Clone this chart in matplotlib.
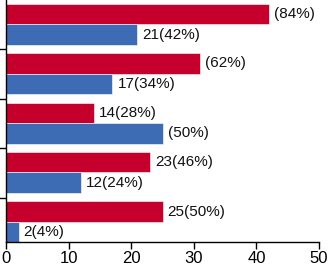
import matplotlib

matplotlib.use("Agg")
import matplotlib.pyplot as plt  # noqa: E402
import numpy as np  # noqa: E402

# Groups listed bottom -> top
red_values = [25, 23, 14, 31, 42]
blue_values = [2, 12, 25, 17, 21]
red_labels = ["25(50%)", "23(46%)", "14(28%)", "(62%)", "(84%)"]
blue_labels = ["2(4%)", "12(24%)", "(50%)", "17(34%)", "21(42%)"]
x_ticks = [0, 10, 20, 30, 40, 50]

RED = "#c5002c"
BLUE = "#3d6cb4"

plt.rcParams["font.family"] = ["Liberation Sans", "DejaVu Sans"]

fig = plt.figure(figsize=(3.29, 2.68), dpi=100)
ax = fig.add_axes([6 / 329, 26 / 268, 313 / 329, 242 / 268])

groups = np.arange(len(red_values))
h = 0.415
ax.barh(groups + 0.715, red_values, height=h, color=RED, edgecolor="white", linewidth=0.4)
ax.barh(groups + 0.30, blue_values, height=h, color=BLUE, edgecolor="white", linewidth=0.4)

for g, v, lab in zip(groups, red_values, red_labels):
    ax.text(v + 0.8, g + 0.715, lab, va="center", ha="left", fontsize=11, color="#111111")
for g, v, lab in zip(groups, blue_values, blue_labels):
    ax.text(v + 0.8, g + 0.30, lab, va="center", ha="left", fontsize=11, color="#111111")

ax.set_xlim(0, 50)
ax.set_ylim(0.1, 5.0)
ax.set_xticks(x_ticks)
ax.set_xticklabels([str(t) for t in x_ticks], fontsize=12)
ax.set_yticks([1, 2, 3, 4])
ax.set_yticklabels([])
ax.tick_params(axis="y", length=6, width=1, direction="out")
ax.tick_params(axis="x", length=5, width=1, direction="out", pad=1.5)
for s in ("top", "right"):
    ax.spines[s].set_visible(False)
for s in ("left", "bottom"):
    ax.spines[s].set_linewidth(1)

fig.savefig("out.png", dpi=100)
